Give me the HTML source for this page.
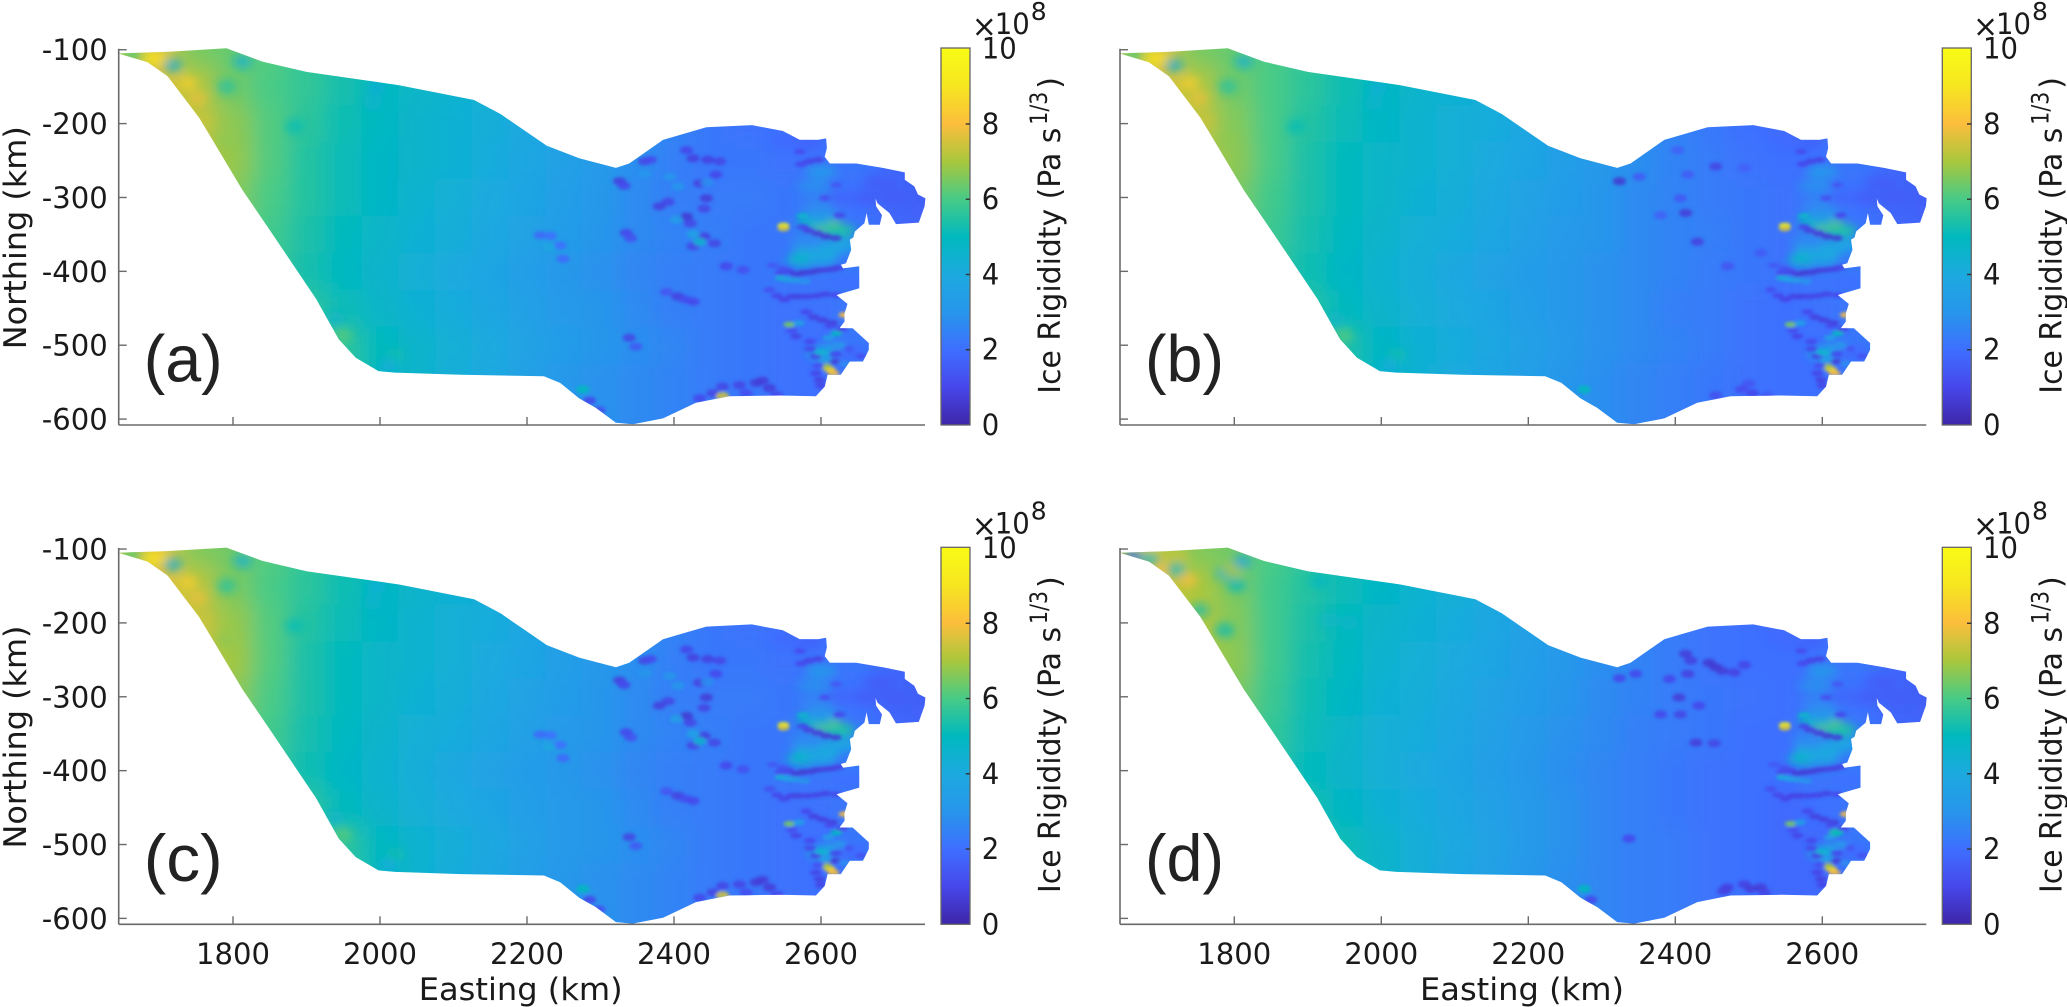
<!DOCTYPE html>
<html lang="en">
<head>
<meta charset="utf-8">
<title>Ice Rigidity Maps</title>
<style>
html,body{margin:0;padding:0;background:#fff;width:2067px;height:1007px;overflow:hidden}
svg{display:block}
text{font-family:"DejaVu Sans","Liberation Sans",sans-serif;fill:#1a1a1a}
.panel-tag{font-family:"Liberation Sans",sans-serif;fill:#222}
</style>
</head>
<body>
<svg id="fig" xmlns="http://www.w3.org/2000/svg" width="2067" height="1007" viewBox="0 0 2067 1007">
<defs>
<filter id="blurField" filterUnits="userSpaceOnUse" x="-100" y="-100" width="1100" height="600"><feGaussianBlur stdDeviation="11"/></filter>
<filter id="blurBroad" filterUnits="userSpaceOnUse" x="-100" y="-100" width="1100" height="600"><feGaussianBlur stdDeviation="4.5"/></filter>
<filter id="blurFine" filterUnits="userSpaceOnUse" x="-100" y="-100" width="1100" height="600"><feGaussianBlur stdDeviation="1.7"/></filter>
<linearGradient id="parulaGrad" x1="0" y1="1" x2="0" y2="0"></linearGradient>
</defs>
</svg>
<script>
// ---------- axes data ----------
const xTicks = [1800, 2000, 2200, 2400, 2600];
const yTicks = [-100, -200, -300, -400, -500, -600];
const colorTicks = [0, 2, 4, 6, 8, 10];
const panelTags = ['(a)', '(b)', '(c)', '(d)'];
const parulaStops = [[62,38,168],[71,71,235],[62,111,255],[39,150,235],[28,170,223],[0,185,190],[72,203,134],[170,199,60],[252,190,60],[246,230,32],[249,251,21]];

// ---------- ice outline (km) ----------
const outlineEast = [1644,1707,1791,1840,1900,2026,2128,2164,2227,2271,2321,2339,2385,2444,2506,2548,2571,2596,2607,2608,2605,2612,2648,2684,2714,2714,2727,2732,2742,2741,2733,2702,2693,2677,2674,2675,2683,2680,2665,2662,2659,2646,2644,2639,2641,2634,2627,2630,2652,2652,2621,2636,2632,2632,2625,2643,2665,2665,2657,2639,2627,2609,2605,2593,2544,2475,2430,2385,2344,2321,2294,2271,2245,2223,2110,2021,1998,1967,1944,1913,1850,1813,1754,1711,1684];
const outlineNorth = [-105,-103,-98,-116,-130,-148,-168,-187,-230,-247,-260,-254,-222,-205,-202,-210,-222,-222,-220,-233,-245,-254,-254,-260,-266,-276,-285,-296,-301,-312,-334,-336,-321,-308,-301,-312,-324,-337,-337,-321,-335,-346,-354,-357,-371,-389,-391,-396,-393,-423,-432,-444,-457,-468,-477,-477,-497,-506,-522,-522,-540,-540,-556,-569,-568,-569,-578,-599,-607,-605,-585,-572,-551,-542,-540,-537,-535,-517,-492,-437,-344,-290,-192,-136,-117];

// ---------- rigidity field grid (×10^8) ----------
const gridEast = [1650,1700,1750,1800,1850,1900,1950,2000,2050,2100,2150,2200,2250,2300,2350,2400,2450,2500,2550,2600,2650,2700,2750];
const gridNorth = [-100,-150,-200,-250,-300,-350,-400,-450,-500,-550,-600];
const fieldA = [
[7.0,7.4,6.5,6.3,6.1,5.7,5.4,5.0,4.8,4.6,4.4,4.2,3.9,3.5,3.0,2.6,2.2,2.1,2.0,1.9,1.8,1.8,1.8],
[7.4,7.6,7.1,6.4,6.0,5.7,5.3,5.0,4.7,4.5,4.3,4.1,3.8,3.5,3.0,2.6,2.2,2.1,2.0,2.0,1.8,1.8,1.8],
[7.5,7.5,7.3,6.7,6.1,5.6,5.2,4.9,4.6,4.4,4.2,3.9,3.6,3.3,3.0,2.5,2.2,2.1,2.0,2.0,1.8,1.7,1.7],
[7.3,7.3,7.2,6.8,6.1,5.5,5.1,4.8,4.6,4.4,4.1,3.8,3.5,3.2,2.8,2.4,2.2,2.2,2.1,2.1,2.2,1.8,1.7],
[7.0,7.0,7.0,6.6,6.0,5.5,5.1,4.8,4.5,4.3,4.0,3.7,3.4,3.1,2.7,2.4,2.3,2.3,2.2,2.3,2.0,1.7,1.6],
[6.5,6.5,6.5,6.4,5.9,5.4,5.0,4.7,4.4,4.2,3.9,3.6,3.3,3.0,2.7,2.5,2.4,2.2,2.2,2.5,2.2,1.8,1.7],
[6.0,6.0,6.0,6.2,5.8,5.3,4.9,4.6,4.3,4.0,3.7,3.4,3.1,2.9,2.6,2.4,2.3,2.2,2.2,2.3,2.2,2.0,2.0],
[5.9,5.9,5.9,5.9,5.9,5.6,5.1,4.7,4.4,4.1,3.8,3.5,3.2,3.0,2.7,2.4,2.3,2.2,2.1,2.1,2.2,2.0,2.0],
[5.8,5.8,5.8,5.8,5.8,5.8,5.6,5.0,4.6,4.3,4.0,3.6,3.3,3.0,2.8,2.6,2.3,2.2,2.1,2.0,2.2,2.1,2.0],
[5.6,5.6,5.6,5.6,5.6,5.6,5.6,5.0,4.6,4.2,3.9,3.5,3.1,2.9,2.7,2.5,2.3,2.2,2.1,2.0,2.2,2.0,2.0],
[5.0,5.0,5.0,5.0,5.0,5.0,5.0,4.8,4.4,4.0,3.7,3.4,3.1,2.9,2.7,2.5,2.3,2.2,2.1,2.0,2.0,2.0,2.0]];
const fieldB = [
[7.0,7.4,6.5,6.3,6.0,5.7,5.3,5.0,4.7,4.5,4.3,4.1,3.8,3.4,2.9,2.5,2.1,2.0,1.9,1.9,1.8,1.8,1.8],
[7.4,7.6,7.1,6.4,6.0,5.6,5.2,4.9,4.6,4.4,4.2,4.0,3.7,3.4,2.9,2.5,2.1,2.0,1.9,1.9,1.8,1.8,1.8],
[7.5,7.5,7.3,6.6,6.0,5.5,5.1,4.8,4.5,4.3,4.1,3.8,3.5,3.2,2.9,2.5,2.2,2.0,1.9,2.0,1.8,1.7,1.7],
[7.3,7.3,7.2,6.7,6.0,5.4,5.0,4.7,4.5,4.3,4.0,3.7,3.4,3.1,2.8,2.5,2.3,2.1,2.0,2.1,2.2,1.8,1.7],
[7.0,7.0,7.0,6.5,5.9,5.4,5.0,4.7,4.4,4.2,3.9,3.6,3.3,3.0,2.7,2.5,2.3,2.2,2.1,2.3,2.0,1.7,1.6],
[6.5,6.5,6.5,6.3,5.8,5.3,4.9,4.6,4.3,4.1,3.8,3.5,3.2,3.0,2.7,2.5,2.4,2.2,2.1,2.5,2.2,1.8,1.7],
[6.0,6.0,6.0,6.1,5.7,5.2,4.8,4.5,4.2,3.9,3.6,3.3,3.1,2.9,2.7,2.5,2.3,2.2,2.1,2.3,2.2,2.0,2.0],
[5.8,5.8,5.8,5.8,5.8,5.5,5.0,4.6,4.3,4.0,3.7,3.4,3.1,2.9,2.7,2.4,2.3,2.1,2.0,2.1,2.2,2.0,2.0],
[5.7,5.7,5.7,5.7,5.7,5.7,5.4,4.8,4.4,4.1,3.8,3.5,3.2,2.9,2.7,2.5,2.3,2.1,2.0,2.0,2.2,2.1,2.0],
[5.5,5.5,5.5,5.5,5.5,5.5,5.3,4.8,4.4,4.0,3.7,3.4,3.0,2.8,2.6,2.4,2.2,2.1,2.0,2.0,2.2,2.0,2.0],
[5.0,5.0,5.0,5.0,5.0,5.0,5.0,4.6,4.2,3.9,3.6,3.3,3.0,2.8,2.6,2.4,2.2,2.1,2.0,2.0,2.0,2.0,2.0]];
const fieldC = [
[7.1,7.5,6.6,6.4,6.1,5.7,5.3,4.9,4.7,4.5,4.3,4.1,3.8,3.4,3.0,2.6,2.2,2.1,2.0,1.9,1.8,1.8,1.8],
[7.5,7.7,7.2,6.5,6.0,5.6,5.2,4.9,4.6,4.4,4.2,4.0,3.7,3.4,3.0,2.6,2.2,2.1,2.0,2.0,1.8,1.8,1.8],
[7.6,7.6,7.4,6.8,6.1,5.5,5.1,4.8,4.5,4.3,4.1,3.8,3.5,3.2,2.9,2.5,2.2,2.1,2.0,2.0,1.8,1.7,1.7],
[7.4,7.4,7.3,6.9,6.1,5.4,5.0,4.7,4.5,4.3,4.0,3.7,3.4,3.1,2.8,2.4,2.2,2.2,2.1,2.1,2.2,1.8,1.7],
[7.1,7.1,7.1,6.7,6.0,5.4,5.0,4.7,4.4,4.2,3.9,3.6,3.3,3.0,2.7,2.4,2.3,2.3,2.2,2.3,2.0,1.7,1.6],
[6.6,6.6,6.6,6.4,5.9,5.3,4.9,4.6,4.3,4.1,3.8,3.5,3.2,3.0,2.7,2.5,2.4,2.2,2.2,2.5,2.2,1.8,1.7],
[6.1,6.1,6.1,6.2,5.8,5.2,4.8,4.5,4.2,3.9,3.6,3.3,3.1,2.9,2.6,2.4,2.3,2.2,2.2,2.3,2.2,2.0,2.0],
[6.0,6.0,6.0,6.0,6.0,5.6,5.0,4.6,4.3,4.0,3.7,3.4,3.2,3.0,2.7,2.4,2.3,2.2,2.1,2.1,2.2,2.0,2.0],
[5.9,5.9,5.9,5.9,5.9,5.9,5.6,4.9,4.5,4.2,3.9,3.5,3.2,3.0,2.8,2.6,2.3,2.2,2.1,2.0,2.2,2.1,2.0],
[5.7,5.7,5.7,5.7,5.7,5.7,5.7,5.0,4.5,4.1,3.8,3.4,3.1,2.9,2.7,2.5,2.3,2.2,2.1,2.0,2.2,2.0,2.0],
[5.0,5.0,5.0,5.0,5.0,5.0,5.0,4.8,4.3,3.9,3.6,3.3,3.1,2.9,2.7,2.5,2.3,2.2,2.1,2.0,2.0,2.0,2.0]];
const fieldD = [
[6.9,7.2,6.6,6.4,6.0,5.6,5.2,4.9,4.6,4.4,4.1,3.8,3.4,3.0,2.7,2.4,2.1,2.0,1.9,1.9,1.8,1.8,1.8],
[7.2,7.4,7.0,6.5,5.9,5.5,5.1,4.8,4.5,4.3,4.0,3.7,3.3,3.0,2.7,2.4,2.1,2.0,1.9,1.9,1.8,1.8,1.8],
[7.3,7.3,7.1,6.6,5.9,5.4,5.0,4.6,4.4,4.1,3.8,3.5,3.2,2.9,2.6,2.3,2.1,2.0,1.9,2.0,1.8,1.7,1.7],
[7.2,7.2,7.0,6.7,5.9,5.3,4.9,4.5,4.3,4.0,3.7,3.4,3.1,2.8,2.5,2.3,2.1,2.0,2.0,2.1,2.2,1.8,1.7],
[6.9,6.9,6.9,6.5,5.8,5.2,4.8,4.4,4.2,3.9,3.6,3.3,3.0,2.7,2.5,2.3,2.2,2.1,2.0,2.3,2.0,1.7,1.6],
[6.4,6.4,6.4,6.3,5.7,5.1,4.7,4.3,4.1,3.8,3.5,3.2,2.9,2.7,2.4,2.3,2.2,2.0,2.0,2.5,2.2,1.8,1.7],
[6.0,6.0,6.0,6.1,5.6,5.0,4.6,4.3,4.0,3.7,3.4,3.1,2.8,2.6,2.4,2.2,2.1,2.0,2.0,2.3,2.2,2.0,2.0],
[5.8,5.8,5.8,5.8,5.7,5.3,4.8,4.4,4.1,3.8,3.5,3.2,2.9,2.6,2.4,2.2,2.1,2.0,1.9,2.0,2.2,2.0,2.0],
[5.7,5.7,5.7,5.7,5.7,5.6,5.1,4.6,4.2,3.9,3.6,3.2,2.9,2.6,2.4,2.3,2.1,2.0,1.9,1.9,2.2,2.1,2.0],
[5.5,5.5,5.5,5.5,5.5,5.5,5.2,4.7,4.2,3.8,3.5,3.1,2.8,2.6,2.4,2.3,2.1,2.0,1.9,1.9,2.2,2.0,2.0],
[5.0,5.0,5.0,5.0,5.0,5.0,5.0,4.6,4.1,3.7,3.4,3.1,2.8,2.6,2.4,2.3,2.1,2.0,1.9,1.9,2.0,2.0,2.0]];

// ---------- broad coastal patches, shared by all panels ----------
const broadEast = [2607,2590,2625,2585,2610,2630,2575,2600,2590,2600,2595,2600,2620,2602,2580,2660,2700,2680,2630,2590,2620,2640,2640,2580,2555];
const broadNorth = [-338,-332,-345,-372,-370,-365,-384,-382,-285,-265,-310,-325,-505,-511,-360,-300,-300,-280,-300,-420,-415,-415,-510,-225,-222];
const broadValue = [6.4,5.0,5.4,3.9,3.9,3.7,4.6,3.8,2.8,3.0,2.6,3.0,3.2,3.8,2.7,1.6,1.6,1.6,1.8,2.1,2.1,2.0,1.9,1.7,1.9];

// ---------- western patches ----------
const westEastABC = [1691,1700,1718,1739,1752,1813,1791,1759,1791,1995,1990,1884,1949,2021,2012,1940,1662];
const westNorthABC = [-112,-112,-121,-145,-166,-116,-150,-195,-222,-152,-172,-204,-487,-514,-528,-464,-107];
const westValueABC = [9.4,8.6,4.2,8.4,7.8,4.3,5.4,7.3,6.7,4.2,4.5,5.1,6.2,5.3,4.0,4.6,6.0];
const westEastD = [1685,1662,1707,1685,1737,1725,1721,1787,1796,1811,1803,1753,1787,1916,1930,1957];
const westNorthD = [-107,-110,-128,-113,-142,-113,-128,-133,-128,-117,-149,-183,-210,-144,-196,-200];
const westValueD = [8.5,2.0,8.0,4.4,8.0,7.3,4.8,4.6,7.2,3.8,4.8,5.2,5.0,4.8,4.6,4.6];

// ---------- small features, shared by all panels ----------
const coastEast = [2549,2549,2632,2612,2607,2617,2557,2621,2607,2595,2583,2620,2575,2625,2605,2621,2584,2596,2573,2571,2545,2556,2566,2576,2586,2596,2606,2616,2624,2530,2540,2550,2560,2570,2582,2594,2606,2620,2566,2560,2580,2590,2602,2615,2628,2585,2593,2618,2620,2598,2593,2600,2655,2640,2545,2555,2565,2578,2570,2610,2625,2600,2606,2632,2650,2575,2548,2534,2612,2596,2585];
const coastNorth = [-338,-342,-459,-533,-529,-538,-472,-484,-353,-349,-345,-355,-340,-324,-301,-283,-251,-249,-255,-238,-402,-400,-404,-402,-401,-399,-398,-397,-395,-425,-433,-438,-434,-434,-434,-433,-431,-432,-488,-480,-455,-462,-466,-470,-478,-505,-515,-522,-512,-547,-538,-555,-515,-505,-409,-411,-412,-414,-470,-490,-500,-510,-520,-525,-505,-325,-396,-392,-474,-528,-495];
const coastValue = [9.6,7.5,8.0,8.6,7.0,8.0,6.5,5.0,0.6,0.7,0.8,0.7,1.0,1.0,1.2,1.4,0.9,0.9,1.0,1.1,1.0,0.9,0.7,0.6,0.7,0.7,0.8,0.8,0.9,1.2,1.0,0.9,0.9,0.8,0.9,0.9,0.9,1.0,0.9,1.1,1.0,0.8,0.8,0.7,0.9,1.0,0.9,0.7,1.0,0.8,0.9,0.9,1.2,1.3,4.2,3.8,3.4,3.0,3.6,3.5,3.0,4.5,3.5,2.8,2.0,4.6,1.3,1.4,1.1,1.2,1.0];

// ---------- small features per panel ----------
const spotEastAC = [2326,2332,2360,2368,2417,2426,2446,2462,2457,2435,2444,2441,2417,2422,2380,2392,2335,2341,2441,2455,2426,2471,2494,2390,2405,2415,2426,2339,2348,2512,2530,2489,2466,2453,2435,2498,2520,2540,2466,2276,2285,2298,2435,2218,2245,2249,2232,2394,2405,2403,2426,2445,2360,2230];
const spotNorthAC = [-278,-284,-251,-249,-236,-247,-249,-251,-269,-281,-301,-315,-326,-335,-312,-306,-348,-355,-353,-362,-366,-393,-398,-428,-434,-438,-441,-490,-502,-551,-558,-554,-556,-565,-572,-565,-548,-568,-569,-560,-575,-588,-360,-351,-365,-383,-352,-272,-285,-330,-350,-280,-268,-368];
const spotValueAC = [0.8,1.0,0.9,1.1,1.0,0.8,0.8,0.9,1.0,0.8,0.7,0.9,0.6,0.9,0.8,0.9,1.0,1.2,0.8,0.9,0.9,1.0,1.2,1.3,0.8,1.1,1.0,0.9,1.4,0.7,0.7,0.9,0.9,0.9,1.0,1.1,0.7,1.0,7.5,5.0,1.0,1.2,4.5,1.8,2.0,1.8,2.0,3.0,3.0,3.4,3.6,2.8,3.0,3.8];
const spotEastB = [2324,2351,2403,2455,2417,2407,2414,2380,2430,2494,2516,2471,2276,2455,2500,2505,2525,2490];
const spotNorthB = [-278,-272,-236,-258,-269,-301,-321,-324,-360,-260,-375,-393,-560,-568,-552,-565,-568,-560];
const spotValueB = [0.6,1.5,1.6,0.9,1.5,1.4,0.7,1.6,0.8,1.6,1.5,1.3,5.0,1.2,1.3,1.0,1.4,1.1];
const spotEastD = [2324,2346,2392,2405,2417,2414,2421,2446,2455,2464,2480,2494,2432,2407,2380,2428,2453,2337,2466,2471,2503,2516,2494,2521,2618,2276,2285];
const spotNorthD = [-275,-269,-276,-301,-269,-242,-251,-254,-260,-265,-267,-257,-312,-324,-324,-362,-363,-492,-563,-558,-560,-558,-554,-565,-484,-560,-575];
const spotValueD = [1.0,1.0,1.0,0.7,0.8,0.7,0.8,0.6,0.6,0.7,0.8,0.9,1.0,0.9,1.0,0.7,0.9,1.0,0.8,0.8,0.7,0.7,0.8,0.9,5.5,5.0,1.0];

// ---------- layout ----------
const panelLeft = [118.7, 1120, 118.7, 1120];
const panelTop = [48.7, 48.7, 548, 548];
const plotW = 806.3, plotH = 376.3;
const xMin = 1644.5, xMax = 2741.5, yMax = -98.6, yMin = -608;
const SVGNS = 'http://www.w3.org/2000/svg';

function xScale(e){ return (e - xMin) / (xMax - xMin) * plotW; }
function yScale(n){ return (yMax - n) / (yMax - yMin) * plotH; }
function cScale(v){ return plotH * (1 - v / 10); }
function colorOf(v){
  const t = Math.max(0, Math.min(10, v));
  const i = Math.min(9, Math.floor(t));
  const f = t - i;
  const a = parulaStops[i], b = parulaStops[i + 1];
  return 'rgb(' + Math.round(a[0] + (b[0] - a[0]) * f) + ',' + Math.round(a[1] + (b[1] - a[1]) * f) + ',' + Math.round(a[2] + (b[2] - a[2]) * f) + ')';
}
function mk(tag, parent, attrs){
  const el = document.createElementNS(SVGNS, tag);
  for (const k in attrs) el.setAttribute(k, attrs[k]);
  parent.appendChild(el);
  return el;
}
function addText(parent, str, attrs){
  const el = mk('text', parent, attrs);
  el.textContent = str;
  return el;
}
function tickWidth(s){ return s.replace('-', '').length * 18.5 + (s[0] === '-' ? 10.5 : 0); }

const fig = document.getElementById('fig');
const grad = document.getElementById('parulaGrad');
parulaStops.forEach(function(c, i){
  mk('stop', grad, {offset: (i * 10) + '%', 'stop-color': colorOf(i)});
});

const fields = [fieldA, fieldB, fieldC, fieldD];
const spotSets = [[spotEastAC, spotNorthAC, spotValueAC], [spotEastB, spotNorthB, spotValueB], [spotEastAC, spotNorthAC, spotValueAC], [spotEastD, spotNorthD, spotValueD]];
const westSets = [[westEastABC, westNorthABC, westValueABC], [westEastABC, westNorthABC, westValueABC], [westEastABC, westNorthABC, westValueABC], [westEastD, westNorthD, westValueD]];
const stepE = gridEast[1] - gridEast[0];
const stepN = gridNorth[0] - gridNorth[1];
const kmX = plotW / (xMax - xMin), kmY = plotH / (yMax - yMin);

panelLeft.forEach(function(left, p){
  const g = mk('g', fig, {transform: 'translate(' + left + ',' + panelTop[p] + ')'});
  
  

  const clip = mk('clipPath', g, {id: 'iceClip' + p});
  const pts = outlineEast.map(function(e, i){ return xScale(e).toFixed(1) + ',' + yScale(outlineNorth[i]).toFixed(1); }).join(' ');
  mk('polygon', clip, {points: pts});

  const map = mk('g', g, {'clip-path': 'url(#iceClip' + p + ')'});
  
  

  // field cells
  const cells = mk('g', map, {filter: 'url(#blurField)'});
  fields[p].forEach(function(row, r){
    row.forEach(function(v, c){
      const e0 = gridEast[c] - stepE / 2 - (c === 0 ? 100 : 0);
      const e1 = gridEast[c] + stepE / 2 + (c === row.length - 1 ? 100 : 0);
      const n0 = gridNorth[r] + stepN / 2 + (r === 0 ? 100 : 0);
      const n1 = gridNorth[r] - stepN / 2 - (r === gridNorth.length - 1 ? 100 : 0);
      const cell = mk('rect', cells, {x: xScale(e0).toFixed(2), y: yScale(n0).toFixed(2), width: (xScale(e1) - xScale(e0) + 0.5).toFixed(2), height: (yScale(n1) - yScale(n0) + 0.5).toFixed(2), fill: colorOf(v)});
      
      
    });
  });

  // broad patches
  const broad = mk('g', map, {filter: 'url(#blurBroad)'});
  broadEast.forEach(function(e, i){
    const m = mk('ellipse', broad, {cx: xScale(e).toFixed(1), cy: yScale(broadNorth[i]).toFixed(1), rx: (22 * kmX).toFixed(1), ry: (9 * kmY).toFixed(1), fill: colorOf(broadValue[i])});
    
    
  });
  const wset = westSets[p];
  wset[0].forEach(function(e, i){
    const m = mk('ellipse', broad, {cx: xScale(e).toFixed(1), cy: yScale(wset[1][i]).toFixed(1), rx: (13 * kmX).toFixed(1), ry: (10 * kmY).toFixed(1), fill: colorOf(wset[2][i]), opacity: 0.7});
    
    
  });

  // fine features
  const fine = mk('g', map, {filter: 'url(#blurFine)'});
  const sset = spotSets[p];
  sset[0].forEach(function(e, i){
    const m = mk('ellipse', fine, {cx: xScale(e).toFixed(1), cy: yScale(sset[1][i]).toFixed(1), rx: (9 * kmX).toFixed(1), ry: (5.5 * kmY).toFixed(1), fill: colorOf(sset[2][i]), opacity: 0.85});
    
    
  });
  coastEast.forEach(function(e, i){
    const m = mk('ellipse', fine, {cx: xScale(e).toFixed(1), cy: yScale(coastNorth[i]).toFixed(1), rx: (8 * kmX).toFixed(1), ry: (3.8 * kmY).toFixed(1), fill: colorOf(coastValue[i]), opacity: 0.9});
    
    
  });

  // axes
  const yAxis = mk('line', g, {x1: 0, y1: 0, x2: 0, y2: plotH, stroke: '#6a6a6a', 'stroke-width': 1.6});
  
  
  const xAxis = mk('line', g, {x1: 0, y1: plotH, x2: plotW, y2: plotH, stroke: '#6a6a6a', 'stroke-width': 1.6});
  
  

  xTicks.forEach(function(t){
    const x = xScale(t);
    const tick = mk('line', g, {x1: x, y1: plotH, x2: x, y2: plotH - 8, stroke: '#6a6a6a', 'stroke-width': 1.4});
    
    
    if (p >= 2) {
      const s = String(t);
      const lab = addText(g, s, {x: x, y: 416, 'font-size': 29, 'text-anchor': 'middle', textLength: tickWidth(s), lengthAdjust: 'spacingAndGlyphs'});
      
      
    }
  });
  yTicks.forEach(function(t){
    const y = yScale(t);
    const tick = mk('line', g, {x1: 0, y1: y, x2: 8, y2: y, stroke: '#6a6a6a', 'stroke-width': 1.4});
    
    
    if (p % 2 === 0) {
      const s = String(t);
      const lab = addText(g, s, {x: -11, y: y + 10.5, 'font-size': 29, 'text-anchor': 'end', textLength: tickWidth(s), lengthAdjust: 'spacingAndGlyphs'});
      
      
    }
  });

  if (p % 2 === 0) {
    const yt = addText(g, 'Northing (km)', {transform: 'translate(-92.7,189) rotate(-90)', 'font-size': 31, 'text-anchor': 'middle', textLength: 223, lengthAdjust: 'spacingAndGlyphs'});
    
    
  }
  if (p >= 2) {
    const xt = addText(g, 'Easting (km)', {x: 402, y: 452, 'font-size': 31, 'text-anchor': 'middle', textLength: 204, lengthAdjust: 'spacingAndGlyphs'});
    
    
  }

  const tag = addText(g, panelTags[p], {x: 25, y: 333, 'font-size': 66, 'class': 'panel-tag', textLength: 79, lengthAdjust: 'spacingAndGlyphs'});
  
  

  // colorbar
  const bar = mk('rect', g, {x: 822.3, y: -0.7, width: 29, height: plotH + 0.7, fill: 'url(#parulaGrad)', stroke: '#666', 'stroke-width': 1.3});
  
  
  colorTicks.forEach(function(t){
    const y = cScale(t);
    if (t > 0 && t < 10) {
      const tick = mk('line', g, {x1: 851.3, y1: y, x2: 847, y2: y, stroke: '#333', 'stroke-width': 1.4});
      
      
    }
    const s = String(t);
    const lab = addText(g, s, {x: 863, y: y + 10, 'font-size': 29, textLength: s.length * 17.5, lengthAdjust: 'spacingAndGlyphs'});
    
    
  });

  const mult = addText(g, '×', {x: 853, y: -12, 'font-size': 30});
  
  
  const base = addText(g, '10', {x: 876, y: -14.7, 'font-size': 29, textLength: 35, lengthAdjust: 'spacingAndGlyphs'});
  
  
  const exp = addText(g, '8', {x: 912, y: -28.7, 'font-size': 25});
  
  

  const cb1 = addText(g, 'Ice Rigididty (Pa s', {transform: 'translate(941.3,345) rotate(-90)', 'font-size': 30, textLength: 266, lengthAdjust: 'spacingAndGlyphs'});
  
  
  const cb2 = addText(g, '1/3', {transform: 'translate(928.3,76) rotate(-90)', 'font-size': 24, textLength: 33, lengthAdjust: 'spacingAndGlyphs'});
  
  
  const cb3 = addText(g, ')', {transform: 'translate(941.3,40) rotate(-90)', 'font-size': 30});
  
  
});
</script>
</body>
</html>
